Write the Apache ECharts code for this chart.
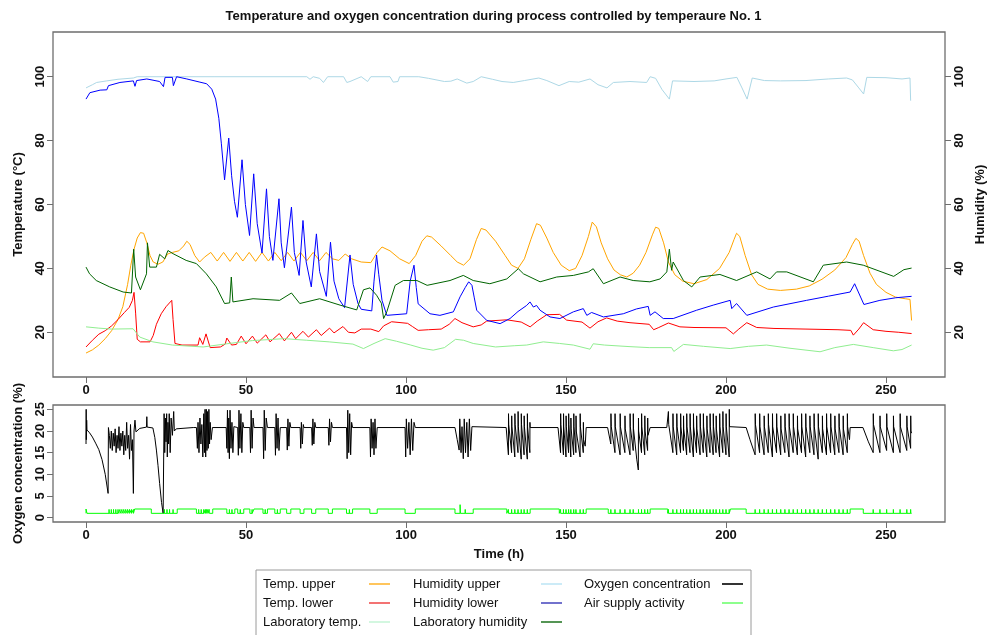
<!DOCTYPE html>
<html>
<head>
<meta charset="utf-8">
<script src="https://cdn.jsdelivr.net/npm/echarts@6/dist/echarts.min.js"></script>
<style>html,body{margin:0;padding:0;background:#fff}#c{width:987px;height:635px}</style>
</head>
<body>
<div id="c"></div>
<script>
// ---------- tick labels ----------
const xTicks = [0, 50, 100, 150, 200, 250];
const tempTicks = [20, 40, 60, 80, 100];
const humTicks = [20, 40, 60, 80, 100];
const oxyTicks = [0, 5, 10, 15, 20, 25];

// ---------- series values [time h, value] ----------
const tempUpper = [[0,13.5],[2,14.5],[4,16],[6,18],[8,20.5],[10,24],[11.5,28],[13,35],[14,41],[15,46],[16,49.5],[17,51.2],[18,51],[19,48],[20,44],[21,42],[22.5,41.3],[24,42],[25.5,44.5],[27,45],[29,45.5],[30.5,47],[31.5,48.5],[32.5,47.5],[34,44],[35.5,42],[37,43.5],[39,45],[41,42.3],[43,45],[45,42.2],[47,45],[49,42.3],[51,45],[53,42.2],[55,45],[57,42.3],[59,45],[61,42.4],[63,45],[65,42.3],[67,45],[69,42.4],[71,45],[73,42.4],[75,45],[77,43],[79,42.5],[81,44.5],[83,43],[86,42],[89,41.8],[91,45],[92.5,46.7],[95,45.5],[98,43],[101,41.5],[103,44],[105,48.5],[106.5,50.2],[108,49.8],[111,47],[114,44],[116,42],[118,41],[120,43],[122,49],[123.5,52.5],[125,52],[128,48.5],[131,44],[133,41],[135,40],[137,43],[139,49],[140.8,54],[142,53.5],[144,49.5],[146,45],[148.5,41],[151,39.3],[153,40],[155,44],[157,50],[158.2,54.5],[159.5,53],[161,48],[163,43],[165,39.5],[167,38],[169,37.3],[171,38.5],[173,41],[175,45],[177,50.5],[178,52.9],[179,52.5],[180.5,48],[182,42],[184,38],[186.5,36],[190,35.2],[194,36.5],[198,40],[201,45],[202.5,49],[203.3,51],[204.3,50],[206,44],[208,38],[210,35],[213,33.5],[217,33.1],[222,33.5],[226,34.5],[230,36.6],[234,39.5],[237.5,43.4],[239.5,47.5],[240.6,49.4],[241.6,48.5],[243,44],[245,38.5],[247,35],[250,32.5],[253,31],[256,30.5],[257.5,30.3],[258,23.7]];

const tempLower = [[0,15.4],[2,17.5],[4,19.4],[6,20.5],[8,22],[10,24],[12,26.2],[13.5,27.8],[14.5,30],[15,32.5],[15.5,26],[16,17.8],[17,17],[20,17],[21,19],[22,22.5],[23.5,25.8],[25,28],[26.8,30],[27.2,24],[27.8,16.5],[30,16],[35,16],[35.5,18.3],[36.5,16.2],[37.5,19.5],[38.8,15.2],[42,15.4],[43.5,16.3],[44,18.2],[45.5,16],[47,16.2],[48.5,18.8],[50,16.4],[52,18.8],[53.5,16.6],[56.2,19.2],[57.5,17],[60.4,19.6],[62,17.3],[64.2,20],[65.5,18],[67.8,20.3],[69.5,18.5],[72,20.8],[73.5,19],[76.1,21.3],[77.5,19.8],[80.3,21.8],[82,20],[84,19.8],[86,21],[89,21],[91.5,20.2],[93,22],[95.5,23.3],[100.5,22.8],[102,21.8],[103.8,20.6],[107,20.8],[111,21],[113.5,22.5],[115.3,24.3],[117.5,23],[121,21.7],[123.5,22.3],[125.2,23.5],[131.5,23.9],[136,23.2],[138.8,21.7],[141,23.5],[144,25.5],[148,25.6],[150.2,23.8],[155,23.2],[157.5,21.3],[160,23.3],[162.7,24.5],[166,23.5],[170,23],[176,22.5],[177.4,20.8],[179,21.5],[182,22.9],[185.6,21.7],[190,21.5],[200,21.4],[202.3,19.5],[204,21],[206.5,23],[209.6,21.5],[215,21.2],[225,21],[235,20.8],[239,20.6],[239.8,19.1],[241.5,21],[243,23],[246,20.8],[250,20.3],[254,20],[258,19.6]];

const labTemp = [[0,21.7],[4,21.3],[8,21],[14.7,21.1],[16.8,18.5],[20.9,17],[27,16],[36.6,15.4],[44,16.4],[52,17.4],[62,18],[69,17.5],[76,17],[83.4,16.3],[86.7,14.9],[90,16.5],[93.5,18],[97,17.2],[101.5,16],[105,15],[108.5,14.4],[112,15.2],[115.5,17.8],[118,17.5],[121,16.5],[128,15.4],[134,15.8],[137.7,16],[142.9,17],[148,16.5],[152.3,16],[157.5,14.7],[158.5,16.4],[162,16],[170,15.5],[176,15.2],[183,15.2],[183.7,14],[186.7,16.2],[193,15.6],[201.3,14.9],[207,15.6],[212.7,16],[220,15],[229.4,13.9],[234,15.2],[239.8,16.2],[246,15.2],[252.3,14.2],[255,14.6],[258,16]];

const humUpper = [[0,96.5],[2,97.5],[3.3,98.2],[6.5,98.7],[10,99.2],[14.8,99.6],[16,100],[40,100],[69,100],[70,99.2],[71,100],[73,99.5],[74.2,98.2],[75.5,100],[80.5,100],[81.5,98.2],[82.5,98.5],[86,100],[88,98.5],[89,100],[95,100],[96,98.3],[97.5,98.5],[98,100],[104,100],[107,99.5],[112,98.5],[114,98.6],[116,99.3],[119,98],[121,98.5],[123.5,100],[127,99.2],[130,98.5],[133.5,98.2],[137,98.8],[141.5,99.6],[144,98.8],[147.8,97.2],[151,98.5],[154,98.3],[157.5,99.3],[160,97.5],[162.8,96.5],[164.8,98.2],[170,98.5],[175.2,98.2],[176.3,100],[178,99.5],[180,96],[182.3,93],[183.3,98.7],[190,98.5],[196.3,98.7],[200,99.3],[203.4,99.8],[205,96.5],[206.6,93],[208.2,99.6],[212,98.8],[217,98.7],[225,98.8],[232,99.3],[237.7,99.6],[239.5,99],[241.5,96.5],[243,94.6],[244,99.8],[250,99.7],[255,99.3],[257.5,99.6],[257.7,92.5]];

const humLower = [[0,93],[1.2,95],[4.4,95.8],[6.5,95.9],[7,97.2],[10.6,98.2],[14.8,98.7],[15.3,97],[15.8,98.8],[19,99.3],[23,98.5],[24.2,96.9],[24.7,99.8],[27,99.8],[27.3,97.2],[28.3,100],[31.5,99.3],[35.6,98.3],[37.7,97.8],[39.3,96.1],[40.5,93],[41.5,87],[42.3,79],[43.3,67.7],[44.6,80.8],[45.5,69],[46.4,61],[47.3,56],[48.75,74],[49.8,60],[51.1,50.3],[52.4,69.6],[53.5,54],[55,44.8],[56.4,64.9],[57.3,50],[58.4,42.5],[60.3,61.8],[61,48],[62,40.2],[64.2,59.2],[65.1,45],[66.6,37.8],[67.8,55],[68.8,42],[70.4,34.2],[72,50.8],[73,39],[75.1,31.25],[76.4,48.2],[77.5,36],[79,30.5],[80.8,27.7],[82.5,44.2],[83.5,35],[85,29],[86,27.2],[89.3,26.7],[90,36],[90.8,44.2],[91.5,38],[92.5,30],[94,25.3],[100.2,25.8],[101.3,36],[102.5,41],[103.2,34],[103.8,28.9],[107.5,25.8],[110.6,25.3],[114.8,26.4],[116.9,31.1],[118.5,34],[119.6,35.8],[120.6,34.7],[121.3,31],[122.1,26.9],[125.2,23.75],[129.4,22.7],[132.5,24.3],[135,26.5],[137.7,28.4],[138.75,29.5],[139.8,27.9],[140.8,28.4],[141.9,26.9],[145,24.8],[148.1,24.3],[152.3,26.4],[155.4,27.4],[156.5,25.3],[158,26.2],[161.7,24.8],[167.9,25.8],[172,27.3],[175.7,28.1],[176.3,25.3],[177.8,26.4],[180.4,24.3],[183.5,24.3],[190.8,26.9],[196,28.5],[201.3,30],[201.8,27.4],[203.3,29],[206.5,25.3],[214.8,27.9],[225.2,30],[232,31.3],[238.8,32.6],[240.2,35.2],[243.1,28.7],[248.1,30],[253,30.8],[258,31.25]];

const labHum = [[0,40.4],[1.1,38.3],[3.2,36.2],[7.4,34.2],[11.6,32.6],[14.2,32.3],[14.9,46],[15.5,37.3],[17,33.3],[18.9,38.3],[19.2,48],[19.9,40.4],[22,40.4],[23,44.4],[24.6,43],[25.6,45.6],[27.2,44.6],[31.3,42.5],[34.5,41.5],[37.6,38.3],[40.7,34.2],[43.3,29],[44.9,29.2],[45.4,37.3],[45.9,29.5],[52.2,30.5],[60.5,30],[64.2,32.3],[66.8,29],[73,30.5],[79.4,28.5],[84.6,27],[86.7,33.3],[88.75,33.9],[90.8,31.6],[92.3,29.1],[93,24.3],[94,26.4],[96.6,34.7],[99.2,36.2],[103.4,36.2],[106.6,34.7],[113.75,36.2],[117.9,37.8],[121,36.2],[126.2,35.2],[131.5,36.7],[135.1,39.9],[136.7,38.3],[141.9,35.8],[147.1,37.3],[152.3,37.8],[157,38.9],[158.5,39.9],[161.7,35.2],[166.9,37.3],[171,36.2],[176.2,35.8],[179.4,36.7],[181.5,38.9],[182.3,46],[183,39.4],[183.5,42],[186.7,36.2],[189.3,34.2],[191.9,37.3],[198.1,38.1],[203.3,36.2],[209.6,38.9],[213.75,36.7],[215.8,38.9],[219,38.9],[227.3,35.8],[230.4,41],[237.7,42],[242.9,41],[252.4,37.5],[255.6,39.6],[258,40.1]];

const oxygen = [[0,17],[0.05,25],[0.1,18],[0.2,22.5],[0.3,20.2],[1,19.7],[2,18.6],[3,17.2],[4,15.7],[5,13.4],[6,10],[6.9,5.6],
[7,20.8],[7.3,19],[7.6,16],[7.9,20],[8.2,15.5],[8.5,19.5],[8.8,16.5],[9.1,20.5],[9.4,15],[9.7,19],[10,16],[10.3,21],[10.6,15.5],[10.9,19.5],[11.2,16.5],[11.5,20],[11.8,14.5],[12.1,19],[12.4,15.5],[12.7,22],[13,16],[13.3,19],[13.6,13.5],[13.9,21.5],[14.2,15.5],[14.5,18],[14.8,5.6],[15,20],[15.3,22.5],[15.6,19.8],[16.8,20.6],[18.9,20.9],[19,23.3],[19.1,20.9],[20.9,20.7],[21.5,18.5],[22,15.6],[22.5,12],[23,7.9],[23.6,3.5],[24.1,1],[24.3,0.8],
[24.4,24],[24.6,15],[24.8,23],[25,17.5],[25.2,24],[25.4,14],[25.6,22],[25.8,17],[26,24],[26.3,15],[26.6,23],[27,19],[27.4,24.5],[27.6,20],[28.2,20.5],[33.5,20.8],
[34.5,20.8],[34.8,16],[35,22],[35.3,15],[35.6,23],[35.9,17],[36.2,21.5],[36.5,14],[36.8,24],[37,15],[37.2,25],[37.4,14],[37.6,25],[37.8,15.5],[38,24.5],[38.2,16],[38.4,25],[38.6,17],[38.8,22],[39.1,18],[39.5,20.8],[43.8,20.8],
[44,16],[44.2,24.8],[44.4,15],[44.6,23],[44.8,13.6],[45,24.8],[45.3,16],[45.6,22],[45.9,15],[46.2,21],[46.5,20.8],
[47.4,20.8],[47.6,14.4],[47.8,24.8],[48.1,16],[48.4,24],[48.7,15],[49,22],[49.3,20.8],
[51.2,20.8],[51.4,15],[51.6,24.8],[51.9,16],[52.2,23],[52.5,20.8],
[55.3,20.8],[55.5,13.6],[55.7,24.8],[56,15.5],[56.3,23],[56.7,20.8],
[59,20.8],[59.2,14.4],[59.4,24],[59.7,16],[60,23],[60.3,15.5],[60.7,20.8],
[62.7,20.8],[62.9,15.6],[63.1,22.8],[63.4,16.5],[63.7,22],[64,20.8],
[66.9,20.8],[67.1,16],[67.3,22],[67.6,17],[67.9,21.5],[68.1,20.8],
[70.5,20.8],[70.7,16.7],[70.9,22.8],[71.2,17],[71.5,22],[71.8,20.8],
[75.7,20.8],[75.9,16.7],[76.1,22.8],[76.4,17.5],[76.7,22],[77,20.8],
[81.4,20.8],[81.6,13.6],[81.8,24.8],[82.1,15],[82.4,24],[82.7,14.5],[83,22],[83.3,20.8],
[88.7,20.8],[88.9,14],[89.1,22.8],[89.4,16],[89.7,22],[90,14.5],[90.3,22.8],[90.6,16],[91,20.8],
[99.7,20.8],[99.9,14],[100.1,22.8],[100.5,16],[100.9,22],[101.3,14.5],[101.7,22.8],[102.1,15.5],[102.5,22],[102.9,20.8],
[115.3,20.8],[116,18],[116.6,15.6],[116.8,22.8],[117.2,15],[117.5,21],[117.9,13.6],[118.2,22.8],[118.6,15],[119,22],[119.4,14],[119.8,22.8],[120.2,15.5],[120.6,21],[121,20.8],[131.3,20.8],
[132,14.5],[132.03,24],[132.1,21.5],[133,15],[133.03,23.5],[133.1,21],[134,14],[134.03,24],[134.1,21.5],[135,15],[135.03,24.5],[135.1,21],[136,13.5],[136.03,24],[136.1,21.5],[136.9,14.5],[136.93,23.5],[137,21],[137.9,13.5],[137.93,24],[138,21],[138.7,15],[138.73,22],[138.8,20.8],[147.5,20.8],
[147.9,20.8],[148.3,15],[148.33,24],[148.4,21.5],[149.2,14.5],[149.23,24],[149.3,21],[150,14],[150.03,23.5],[150.1,21],[150.8,15],[150.83,24],[150.9,21.5],[151.5,14],[151.53,23],[151.6,20.5],[152.4,14.5],[152.43,24],[152.5,21],[153.1,15],[153.13,23.5],[153.2,20],[154.4,14],[154.43,24],[154.5,21],[155.4,15],[155.43,22],[155.5,18],[156,16.5],[156.3,20.8],[163,20.8],
[163.2,20.8],[164,17],[164.05,24],[164.15,21],[165.3,15],[165.33,24],[165.4,21],[166.9,14.5],[166.93,24],[167,21],[168.4,15],[168.43,23.5],[168.5,20.5],[170,14.5],[170.03,24],[170.1,21],[171,15.5],[171.03,24],[171.1,20.5],[172.1,13.5],[172.6,11],[172.65,23],[172.7,20],[173.6,15],[173.63,24],[173.7,21],[174.6,14.5],[174.63,23.5],[174.7,20],[175.5,15.5],[175.53,23],[175.6,19],[176.3,20.8],[181.5,20.8],
[181.8,20.8],[182,24.5],[182.1,21.5],[183.4,15],[183.43,24],[183.5,21],[184.6,14.5],[184.63,24],[184.7,21],[185.8,15],[185.83,24],[185.9,21],[186.7,15.5],[186.73,23.5],[186.8,20.5],[187.7,14.5],[187.73,24],[187.8,21],[188.75,15],[188.78,24],[188.85,21],[189.8,14],[189.83,24],[189.9,21],[190.8,15],[190.83,23.5],[190.9,20.5],[191.9,14.5],[191.93,24],[192,21],[192.9,15],[192.93,24],[193,21],[194,14],[194.03,23.5],[194.1,20.5],[195,15],[195.03,24],[195.1,21],[196,14.5],[196.03,24],[196.1,21],[196.9,15],[196.93,23.5],[197,20.5],[198,14],[198.03,24],[198.1,21],[199,15],[199.03,24.5],[199.1,21],[200,14.5],[200.03,24],[200.1,21],[201,14],[201.03,25],[201.1,21],[201.4,20.8],[206.3,20.8],
[207.5,18],[209.1,14.5],[209.13,24],[209.2,21.5],[210.5,15],[210.53,24],[210.6,21],[211.9,14.5],[211.93,23.5],[212,21],[213.2,15],[213.23,24],[213.3,21.5],[214.5,14],[214.53,24],[214.6,21],[215.8,15],[215.83,24],[215.9,21],[217.1,14.5],[217.13,23.5],[217.2,20.5],[218.4,15],[218.43,24],[218.5,21],[219.7,14],[219.73,24],[219.8,21],[221,15],[221.03,24],[221.1,21],[222.3,14.5],[222.33,23.5],[222.4,20.5],[223.6,15],[223.63,24],[223.7,21],[224.9,14],[224.93,24],[225,21],[226.2,15],[226.23,23.5],[226.3,21],[227.5,14.5],[227.53,24],[227.6,21],[228.8,13.5],[228.83,24],[228.9,21],[230.1,15],[230.13,23.5],[230.2,20.5],[231.4,14.5],[231.43,24],[231.5,21],[232.7,15],[232.73,24],[232.8,21],[234,14.5],[234.03,23.5],[234.1,20.5],[235.3,15],[235.33,24],[235.4,21],[236.6,14.5],[236.63,23.5],[236.7,20.5],[237.9,15],[237.93,24],[238,21],[238.6,18],[238.8,20.8],[242.8,20.8],
[244.5,17.5],[246,15],[246.03,24],[246.1,21.5],[248.1,15],[248.13,23.5],[248.2,21],[250.2,15.5],[250.23,24],[250.3,21],[252.3,15],[252.33,23.5],[252.4,21],[254.4,15],[254.43,24],[254.5,21],[256.5,15.5],[256.53,23.5],[256.6,21],[257.7,16],[257.73,23.5],[257.8,20],[258,19.5]];

const airSupply = [[0,1],[0,2],[0.3,2],[0.3,1],
[7.2,1],[7.2,1.9],[7.23,1],[7.9,1],[7.9,1.9],[7.93,1],[8.6,1],[8.6,1.9],[8.63,1],[9.3,1],[9.3,1.9],[9.33,1],[10,1],[10,1.9],[10.03,1],[10.6,1],[10.6,1.9],[10.63,1],[11.2,1],[11.2,1.9],[11.23,1],[11.8,1],[11.8,1.9],[11.83,1],[12.4,1],[12.4,1.9],[12.43,1],[13,1],[13,1.9],[13.03,1],[13.6,1],[13.6,1.9],[13.63,1],[14.2,1],[14.2,1.9],[14.23,1],[14.8,1],[14.8,1.9],[14.83,1],
[15.2,1],[15.2,2],[20.4,2],[20.4,1],
[24.5,1],[24.5,1.9],[24.53,1],[25.3,1],[25.3,1.9],[25.33,1],[26.1,1],[26.1,1.9],[26.13,1],[27.2,1],[27.2,1.9],[27.23,1],
[28.5,1],[28.5,2],[34.5,2],[34.5,1],
[35.2,1],[35.2,1.9],[35.23,1],[36,1],[36,1.9],[36.03,1],[36.8,1],[36.8,1.9],[36.83,1],[37.3,1],[37.3,1.9],[37.33,1],[37.7,1],[37.7,1.9],[37.73,1],[38.1,1],[38.1,1.9],[38.13,1],[38.5,1],[38.5,1.9],[38.53,1],
[39.6,1],[39.6,2],[44,2],[44,1],[44.8,1],[44.8,1.9],[44.83,1],[45.6,1],[45.6,1.9],[45.63,1],[46.5,1],[46.5,2],
[47.4,2],[47.4,1],[48.2,1],[48.2,1.9],[48.23,1],[49.3,1],[49.3,2],
[51.2,2],[51.2,1],[51.9,1],[51.9,1.9],[51.93,1],[52.5,1],[52.5,2],
[55.3,2],[55.3,1],[56,1],[56,1.9],[56.03,1],[56.7,1],[56.7,2],
[59,2],[59,1],[59.8,1],[59.8,1.9],[59.83,1],[60.7,1],[60.7,2],
[62.7,2],[62.7,1],[64,1],[64,2],
[66.9,2],[66.9,1],[68.1,1],[68.1,2],
[70.5,2],[70.5,1],[71.8,1],[71.8,2],
[75.7,2],[75.7,1],[77,1],[77,2],
[81.4,2],[81.4,1],[82.3,1],[82.3,1.9],[82.33,1],[83.3,1],[83.3,2],
[88.7,2],[88.7,1],[91,1],[91,2],
[99.7,2],[99.7,1],[102.9,1],[102.9,2],
[115.3,2],[115.3,1],[116.9,1],[116.9,3],[117,1],[118.5,1],[118.5,1.9],[118.53,1],[121,1],[121,2],
[131.5,2],[131.5,1],[132,1],[132,1.9],[132.03,1],[133,1],[133,1.9],[133.03,1],[134,1],[134,1.9],[134.03,1],[135,1],[135,1.9],[135.03,1],[136,1],[136,1.9],[136.03,1],[136.9,1],[136.9,1.9],[136.93,1],[137.9,1],[137.9,1.9],[137.93,1],[138.8,1],[138.8,2],
[147.9,2],[147.9,1],[148.3,1],[148.3,1.9],[148.33,1],[149.2,1],[149.2,1.9],[149.23,1],[150,1],[150,1.9],[150.03,1],[150.8,1],[150.8,1.9],[150.83,1],[151.5,1],[151.5,1.9],[151.53,1],[152.4,1],[152.4,1.9],[152.43,1],[153.1,1],[153.1,1.9],[153.13,1],[154.4,1],[154.4,1.9],[154.43,1],[155.4,1],[155.4,1.9],[155.43,1],[156.3,1],[156.3,2],
[163.2,2],[163.2,1],[164,1],[164,1.9],[164.03,1],[165.3,1],[165.3,1.9],[165.33,1],[166.9,1],[166.9,1.9],[166.93,1],[168.4,1],[168.4,1.9],[168.43,1],[170,1],[170,1.9],[170.03,1],[171,1],[171,1.9],[171.03,1],[172.65,1],[172.65,1.9],[172.68,1],[173.6,1],[173.6,1.9],[173.63,1],[174.6,1],[174.6,1.9],[174.63,1],[175.5,1],[175.5,1.9],[175.53,1],[176.3,1],[176.3,2],
[181.8,2],[181.8,1],[182,1],[182,1.9],[182.03,1],[183.4,1],[183.4,1.9],[183.43,1],[184.6,1],[184.6,1.9],[184.63,1],[185.8,1],[185.8,1.9],[185.83,1],[186.7,1],[186.7,1.9],[186.73,1],[187.7,1],[187.7,1.9],[187.73,1],[188.75,1],[188.75,1.9],[188.78,1],[189.8,1],[189.8,1.9],[189.83,1],[190.8,1],[190.8,1.9],[190.83,1],[191.9,1],[191.9,1.9],[191.93,1],[192.9,1],[192.9,1.9],[192.93,1],[194,1],[194,1.9],[194.03,1],[195,1],[195,1.9],[195.03,1],[196,1],[196,1.9],[196.03,1],[196.9,1],[196.9,1.9],[196.93,1],[198,1],[198,1.9],[198.03,1],[199,1],[199,1.9],[199.03,1],[200,1],[200,1.9],[200.03,1],[201,1],[201,1.9],[201.03,1],[201.4,1],[201.4,2],
[206.3,2],[206.3,1],[209.1,1],[209.1,1.9],[209.13,1],[210.5,1],[210.5,1.9],[210.53,1],[211.9,1],[211.9,1.9],[211.93,1],[213.2,1],[213.2,1.9],[213.23,1],[214.5,1],[214.5,1.9],[214.53,1],[215.8,1],[215.8,1.9],[215.83,1],[217.1,1],[217.1,1.9],[217.13,1],[218.4,1],[218.4,1.9],[218.43,1],[219.7,1],[219.7,1.9],[219.73,1],[221,1],[221,1.9],[221.03,1],[222.3,1],[222.3,1.9],[222.33,1],[223.6,1],[223.6,1.9],[223.63,1],[224.9,1],[224.9,1.9],[224.93,1],[226.2,1],[226.2,1.9],[226.23,1],[227.5,1],[227.5,1.9],[227.53,1],[228.8,1],[228.8,1.9],[228.83,1],[230.1,1],[230.1,1.9],[230.13,1],[231.4,1],[231.4,1.9],[231.43,1],[232.7,1],[232.7,1.9],[232.73,1],[234,1],[234,1.9],[234.03,1],[235.3,1],[235.3,1.9],[235.33,1],[236.6,1],[236.6,1.9],[236.63,1],[237.9,1],[237.9,1.9],[237.93,1],[238.8,1],[238.8,2],
[242.9,2],[242.9,1],[246,1],[246,1.9],[246.03,1],[248.1,1],[248.1,1.9],[248.13,1],[250.2,1],[250.2,1.9],[250.23,1],[252.3,1],[252.3,1.9],[252.33,1],[254.4,1],[254.4,1.9],[254.43,1],[256.5,1],[256.5,1.9],[256.53,1],[257.7,1],[257.7,1.9],[257.73,1],[258,1]];

// ---------- legend labels (3 columns) ----------
const legendCol1 = ['Temp. upper', 'Temp. lower', 'Laboratory temp.'];
const legendCol2 = ['Humidity upper', 'Humidity lower', 'Laboratory humidity'];
const legendCol3 = ['Oxygen concentration', 'Air supply activity'];

// ---------- styles ----------
const FONT = '"Liberation Sans", Arial, Helvetica, sans-serif';
const colors = {
  'Temp. upper': '#FFA500', 'Temp. lower': '#FF0000', 'Laboratory temp.': '#90EE90',
  'Humidity upper': '#ADD8E6', 'Humidity lower': '#0000FF', 'Laboratory humidity': '#006400',
  'Oxygen concentration': '#000000', 'Air supply activity': '#00FF00'
};
const legendLineColors = {
  'Temp. upper': '#FFB733', 'Temp. lower': '#F05050', 'Laboratory temp.': '#C8F5D8',
  'Humidity upper': '#BFE6F5', 'Humidity lower': '#4F4FC0', 'Laboratory humidity': '#2A7A2A',
  'Oxygen concentration': '#000000', 'Air supply activity': '#70FF70'
};
const AXC = '#6e6e6e';

const chart = echarts.init(document.getElementById('c'), null, {renderer: 'canvas'});

function xAxisDef(gi, name) {
  return {
    type: 'value', gridIndex: gi, min: -10.32, max: 268.44, position: 'bottom',
    axisLine: {show: false, onZero: false},
    axisTick: {show: true, length: 6, lineStyle: {color: AXC, width: 1}, customValues: xTicks},
    axisLabel: {show: true, customValues: xTicks, margin: 7, color: '#111', fontSize: 13, fontWeight: 'bold', fontFamily: FONT},
    splitLine: {show: false},
    name: name || '', nameLocation: 'middle', nameGap: 26,
    nameTextStyle: {fontSize: 13, fontWeight: 'bold', color: '#111', fontFamily: FONT}
  };
}
function yAxisDef(gi, pos, min, max, ticks, name, gap, margin) {
  return {
    type: 'value', gridIndex: gi, position: pos, min: min, max: max,
    axisLine: {show: false, onZero: false},
    axisTick: {show: true, length: 6, lineStyle: {color: AXC, width: 1}, customValues: ticks},
    axisLabel: {show: true, customValues: ticks, rotate: 90, margin: margin, color: '#111', fontSize: 13, fontWeight: 'bold', fontFamily: FONT},
    splitLine: {show: false},
    name: name, nameLocation: 'middle', nameGap: gap, nameRotate: 90,
    nameTextStyle: {fontSize: 13, fontWeight: 'bold', color: '#111', fontFamily: FONT}
  };
}
function lineSeries(name, data, xi, yi) {
  return {
    name: name, type: 'line', data: data, xAxisIndex: xi, yAxisIndex: yi,
    showSymbol: false, symbol: 'none', smooth: false, silent: true, clip: true,
    lineStyle: {color: colors[name], width: 1}, itemStyle: {color: colors[name]}
  };
}

const graphics = [
  {type: 'text', x: 493.5, y: 16, style: {text: 'Temperature and oxygen concentration during process controlled by temperaure No. 1', font: 'bold 13px ' + FONT, fill: '#111', align: 'center', verticalAlign: 'middle'}},
  {type: 'rect', shape: {x: 256, y: 570, width: 495, height: 80}, style: {fill: '#fff', stroke: '#9a9a9a', lineWidth: 1}}
];
const rowY = [584, 603, 622];
const cols = [
  {items: legendCol1, tx: 263, lx1: 369, lx2: 390},
  {items: legendCol2, tx: 413, lx1: 541, lx2: 562},
  {items: legendCol3, tx: 584, lx1: 722, lx2: 743}
];
cols.forEach(c => {
  c.items.forEach((label, i) => {
    graphics.push({type: 'text', x: c.tx, y: rowY[i], style: {text: label, font: '13px ' + FONT, fill: '#111', align: 'left', verticalAlign: 'middle'}});
    graphics.push({type: 'line', shape: {x1: c.lx1, y1: rowY[i], x2: c.lx2, y2: rowY[i]}, style: {stroke: legendLineColors[label], lineWidth: 1.6}});
  });
});

chart.setOption({
  animation: false,
  backgroundColor: '#fff',
  grid: [
    {left: 53, top: 32, width: 892, height: 345, show: true, borderColor: AXC, borderWidth: 1.3, backgroundColor: 'transparent', containLabel: false, outerBoundsMode: 'none'},
    {left: 53, top: 405, width: 892, height: 117, show: true, borderColor: AXC, borderWidth: 1.3, backgroundColor: 'transparent', containLabel: false, outerBoundsMode: 'none'}
  ],
  xAxis: [xAxisDef(0, ''), xAxisDef(1, 'Time (h)')],
  yAxis: [
    yAxisDef(0, 'left', 6, 114, tempTicks, 'Temperature (°C)', 28, 6),
    yAxisDef(0, 'right', 6, 114, humTicks, 'Humidity (%)', 29, 8),
    yAxisDef(1, 'left', -1, 26, oxyTicks, 'Oxygen concentration (%)', 28, 6)
  ],
  series: [
    lineSeries('Temp. upper', tempUpper, 0, 0),
    lineSeries('Temp. lower', tempLower, 0, 0),
    lineSeries('Laboratory temp.', labTemp, 0, 0),
    lineSeries('Humidity upper', humUpper, 0, 1),
    lineSeries('Humidity lower', humLower, 0, 1),
    lineSeries('Laboratory humidity', labHum, 0, 1),
    lineSeries('Oxygen concentration', oxygen, 1, 2),
    lineSeries('Air supply activity', airSupply, 1, 2)
  ],
  graphic: graphics
});
</script>
</body>
</html>
